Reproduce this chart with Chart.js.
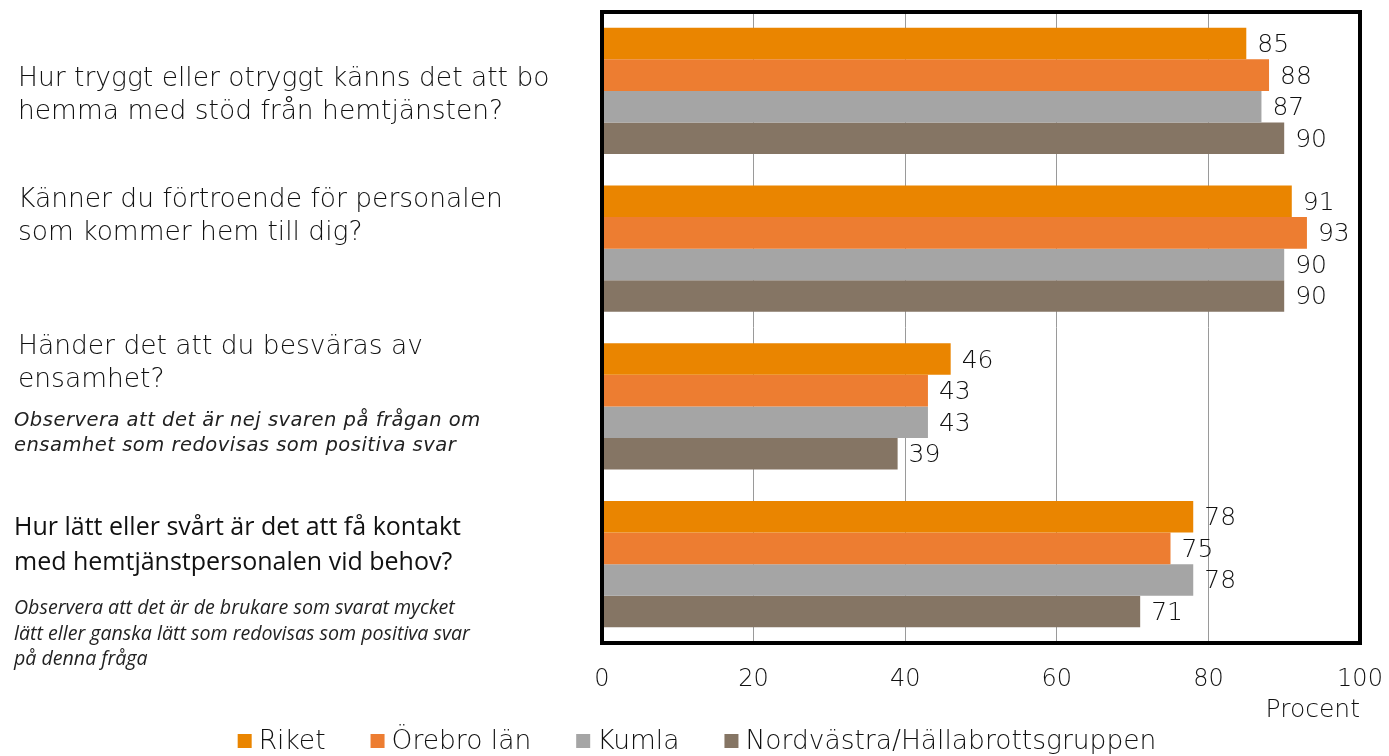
<!DOCTYPE html>
<html>
<head>
<meta charset="utf-8">
<script src="https://cdn.jsdelivr.net/npm/chart.js@4"></script>
<style>
  body { margin: 0; background: #fff; }
  #wrap { position: relative; width: 1389px; height: 756px; }
  canvas { position: absolute; left: 0; top: 0; }
  .q { position: absolute; left: 18px; color: #111; font-family: "DejaVu Sans", sans-serif; font-weight: 300; font-size: 26.5px; line-height: 32.5px; }
  .note { position: absolute; left: 14px; color: #222; font-family: "DejaVu Sans", sans-serif; font-weight: 300; font-style: italic; font-size: 19.5px; line-height: 25px; letter-spacing: 0.5px; }
  .q2 { position: absolute; left: 14px; color: #111; font-family: "Open Sans", sans-serif; font-size: 25px; line-height: 35px; }
  .note2 { position: absolute; left: 14px; color: #222; font-family: "Open Sans", sans-serif; font-style: italic; font-size: 19.6px; line-height: 25.5px; }
</style>
</head>
<body>
<div id="wrap">
  <canvas id="chart" width="1389" height="756"></canvas>
  <div class="q" id="q0" style="top:61px"></div>
  <div class="q" id="q1" style="top:182px"></div>
  <div class="q" id="q2" style="top:329px"></div>
  <div class="note" id="n2" style="top:407px"></div>
  <div class="q2" id="q3" style="top:508px"></div>
  <div class="note2" id="n3" style="top:594px"></div>
</div>
<script>
// questions shown to the left of the bars
const categories = [
    'Hur tryggt eller otryggt känns det att bo<br>hemma med stöd från hemtjänsten?',
    'Känner du förtroende för personalen<br>som kommer hem till dig?',
    'Händer det att du besväras av<br>ensamhet?',
    'Hur lätt eller svårt är det att få kontakt<br>med hemtjänstpersonalen vid behov?'
];
const notes = [
    '', '',
    'Observera att det är nej svaren på frågan om<br>ensamhet som redovisas som positiva svar',
    'Observera att det är de brukare som svarat mycket<br>lätt eller ganska lätt som redovisas som positiva svar<br>på denna fråga'
];

const seriesNames = ['Riket', 'Örebro län', 'Kumla', 'Nordvästra/Hällabrottsgruppen'];
const riket = [85, 91, 46, 78];
const orebro = [88, 93, 43, 75];
const kumla = [87, 90, 43, 78];
const nordvastra = [90, 90, 39, 71];
const xTicks = [0, 20, 40, 60, 80, 100];
const colors = ['#EA8500', '#ED7D31', '#A5A5A5', '#857564'];

document.getElementById('q0').innerHTML = categories[0];
document.getElementById('q1').innerHTML = categories[1];
document.getElementById('q2').innerHTML = categories[2];
document.getElementById('n2').innerHTML = notes[2];
document.getElementById('q3').innerHTML = categories[3];
document.getElementById('n3').innerHTML = notes[3];

const font = '"DejaVu Sans", sans-serif';

// black frame around the plot area
const framePlugin = {
    id: 'frame',
    afterDraw(chart) {
        const a = chart.chartArea;
        const ctx = chart.ctx;
        ctx.save();
        ctx.strokeStyle = '#000';
        ctx.lineWidth = 4;
        ctx.strokeRect(a.left, a.top, a.right - a.left, a.bottom - a.top);
        ctx.restore();
    }
};

// values written after each bar
const valuePlugin = {
    id: 'values',
    afterDatasetsDraw(chart) {
        const ctx = chart.ctx;
        ctx.save();
        ctx.font = '300 25px ' + font;
        ctx.fillStyle = '#111';
        ctx.textAlign = 'left';
        ctx.textBaseline = 'middle';
        chart.data.datasets.forEach(function(ds, i) {
            chart.getDatasetMeta(i).data.forEach(function(bar, j) {
                ctx.fillText(ds.data[j], bar.x + 11, bar.y + 2);
            });
        });
        ctx.restore();
    }
};

// one-line legend under the axis title
const legendPlugin = {
    id: 'lineLegend',
    afterDraw(chart) {
        const ctx = chart.ctx;
        const box = 14, gap = 7, spacing = 45;
        ctx.save();
        ctx.font = '300 26.5px ' + font;
        ctx.textBaseline = 'middle';
        ctx.textAlign = 'left';
        const ds = chart.data.datasets;
        const widths = ds.map(function(d) { return box + gap + ctx.measureText(d.label).width; });
        const total = widths.reduce(function(a, b) { return a + b; }, 0) + spacing * (ds.length - 1);
        let x = 697 - total / 2;
        const y = 741;
        ds.forEach(function(d, i) {
            ctx.fillStyle = d.backgroundColor;
            ctx.fillRect(x, y - box / 2, box, box);
            ctx.fillStyle = '#111';
            ctx.fillText(d.label, x + box + gap, y + 1);
            x += widths[i] + spacing;
        });
        ctx.restore();
    }
};

const seriesData = [riket, orebro, kumla, nordvastra];

new Chart(document.getElementById('chart').getContext('2d'), {
    type: 'bar',
    data: {
        labels: categories.map(function(c) { return c.replace('<br>', ' '); }),
        datasets: seriesData.map(function(d, i) {
            return {
                label: seriesNames[i],
                data: d,
                backgroundColor: colors[i],
                borderWidth: 0,
                categoryPercentage: 0.8,
                barPercentage: 1.0
            };
        })
    },
    options: {
        indexAxis: 'y',
        responsive: false,
        animation: false,
        layout: { padding: { left: 602, right: 29, top: 12, bottom: 31 } },
        scales: {
            x: {
                min: 0,
                max: 100,
                afterBuildTicks: function(axis) {
                    axis.ticks = xTicks.map(function(v) { return { value: v }; });
                },
                afterFit: function(axis) {
                    axis.height = 82;
                    axis.paddingLeft = 0;
                    axis.paddingRight = 0;
                },
                grid: { color: '#9a9a9a', lineWidth: 1, drawTicks: false },
                border: { display: false },
                ticks: { color: '#111', font: { family: font, size: 24, weight: 300 }, padding: 22 },
                title: {
                    display: true,
                    text: 'Procent',
                    align: 'end',
                    color: '#111',
                    font: { family: font, size: 25, weight: 300 },
                    padding: { top: 2, bottom: 0 }
                }
            },
            y: {
                display: false,
                grid: { display: false }
            }
        },
        plugins: {
            legend: { display: false },
            tooltip: { enabled: false }
        }
    },
    plugins: [framePlugin, valuePlugin, legendPlugin]
});
</script>
</body>
</html>
